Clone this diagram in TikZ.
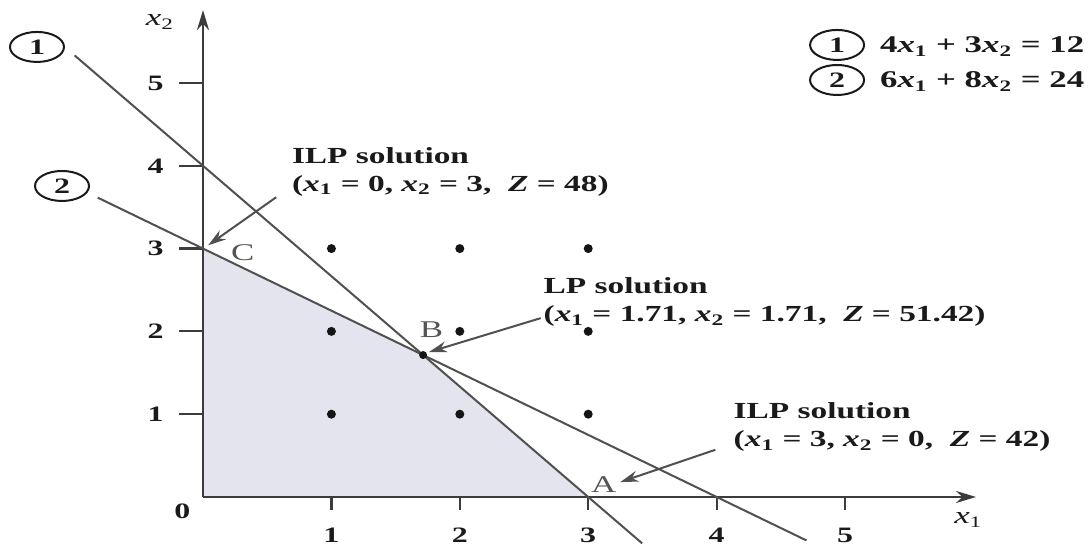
\documentclass[tikz,border=0pt]{standalone}
\usepackage{fontspec}
\setmainfont{Liberation Serif}[FakeStretch=1.45]
\usetikzlibrary{arrows.meta,shapes.geometric}
\newcommand{\xs}[1]{\textit{x}\textsubscript{#1}}
\definecolor{linec}{HTML}{505050}
\definecolor{axisc}{HTML}{3C3C3C}
\definecolor{txtc}{HTML}{1A1A1A}
\definecolor{regionc}{HTML}{E4E4EF}
\definecolor{dotc}{HTML}{151515}
\definecolor{ptc}{HTML}{555555}
\begin{document}
\begin{tikzpicture}[x=64.2pt,y=41.4pt,
  cline/.style={draw=linec, line width=1pt},
  axisline/.style={draw=axisc, line width=1.2pt},
  tickline/.style={draw=axisc, line width=1.1pt},
  ticklbl/.style={font=\fontsize{11}{13}\selectfont\bfseries, text=txtc, inner sep=0pt},
  dotnode/.style={circle, fill=dotc, inner sep=0pt, minimum size=4.5pt},
  lbl/.style={font=\fontsize{11.5}{14}\selectfont\bfseries, text=txtc, align=left, anchor=west, inner sep=0pt},
  ptlbl/.style={font=\fontsize{12}{14}\selectfont, text=ptc, inner sep=0pt},
  callout/.style={-{Stealth[length=9pt,width=5.5pt]}, draw=linec, line width=1pt},
  numc/.style={ellipse, draw=txtc, line width=1pt, minimum width=27pt, minimum height=15pt, inner sep=0pt, font=\fontsize{11}{11}\selectfont\bfseries, text=txtc},
  axlbl/.style={font=\fontsize{12}{14}\selectfont, text=txtc, inner sep=0pt}
]
\useasboundingbox (-1.581,-0.652) rectangle (6.900,6.002);
\fill[white] (-1.581,-0.652) rectangle (6.900,6.002);

% feasible region
\fill[regionc] (0,0) -- (3,0) -- (12/7,12/7) -- (0,3) -- cycle;

% axes
\coordinate (O) at (0,0);
\coordinate (xend) at (6.02,0);
\coordinate (yend) at (0,5.88);
\draw[axisline,-{Stealth[length=10pt,width=6pt]}] (O) -- (xend);
\draw[axisline,-{Stealth[length=10pt,width=6pt]}] (O) -- (yend);
\node[axlbl] (x1lbl) at (5.96,-0.28) {\xs{1}};
\node[axlbl] (x2lbl) at (-0.335,5.74) {\xs{2}};
\node[ticklbl] (zero) at (-0.16,-0.17) {0};

\foreach \i in {1,...,5}{
  \draw[tickline] (\i,0) -- (\i,-0.16);
  \node[ticklbl] (xt\i) at (\i,-0.46) {\i};
  \draw[tickline] (0,\i) -- (-0.19,\i);
  \node[ticklbl] (yt\i) at (-0.37,\i) {\i};
}

% constraint lines
\coordinate (l1s) at (-1,5.333);
\coordinate (l1e) at (3.42,-0.56);
\coordinate (l2s) at (-0.82,3.615);
\coordinate (l2e) at (4.7,-0.525);
\draw[cline] (l1s) -- (l1e);
\draw[cline] (l2s) -- (l2e);
\node[numc] (c1) at (-1.293,5.435) {1};
\node[numc] (c2) at (-1.098,3.756) {2};

% legend
\node[numc] (lc1) at (4.938,5.459) {1};
\node[numc] (lc2) at (4.938,5.036) {2};
\node[lbl, font=\fontsize{12}{14}\selectfont\bfseries] (eq1) at (5.27,5.44) {4\xs{1} + 3\xs{2} = 12};
\node[lbl, font=\fontsize{12}{14}\selectfont\bfseries] (eq2) at (5.27,5.02) {6\xs{1} + 8\xs{2} = 24};

% integer points
\foreach \a in {1,2,3}{
  \foreach \b in {1,2,3}{
    \node[dotnode] (p\a\b) at (\a,\b) {};
  }
}
\node[dotnode, minimum size=4pt] (lp) at (12/7,12/7) {};

% points
\coordinate (C) at (0.04,3.04);
\coordinate (B) at (1.76,1.75);
\coordinate (A) at (3.25,0.18);
\node[ptlbl] (Clbl) at (0.31,2.95) {C};
\node[ptlbl] (Blbl) at (1.78,2.02) {B};
\node[ptlbl] (Albl) at (3.12,0.15) {A};

% callouts
\node[lbl] (ilp1) at (0.69,3.93) {ILP solution\\(\xs{1} = 0, \xs{2} = 3,\ \ \textit{Z} = 48)};
\node[lbl] (lps) at (2.65,2.35) {LP solution\\(\xs{1} = 1.71, \xs{2} = 1.71,\ \ \textit{Z} = 51.42)};
\node[lbl] (ilp2) at (4.13,0.84) {ILP solution\\(\xs{1} = 3, \xs{2} = 0,\ \ \textit{Z} = 42)};
\coordinate (a1s) at (0.57,3.62);
\coordinate (a2s) at (2.63,2.16);
\coordinate (a3s) at (3.99,0.57);
\draw[callout] (a1s) -- (C);
\draw[callout] (a2s) -- (B);
\draw[callout] (a3s) -- (A);
\end{tikzpicture}
\end{document}
